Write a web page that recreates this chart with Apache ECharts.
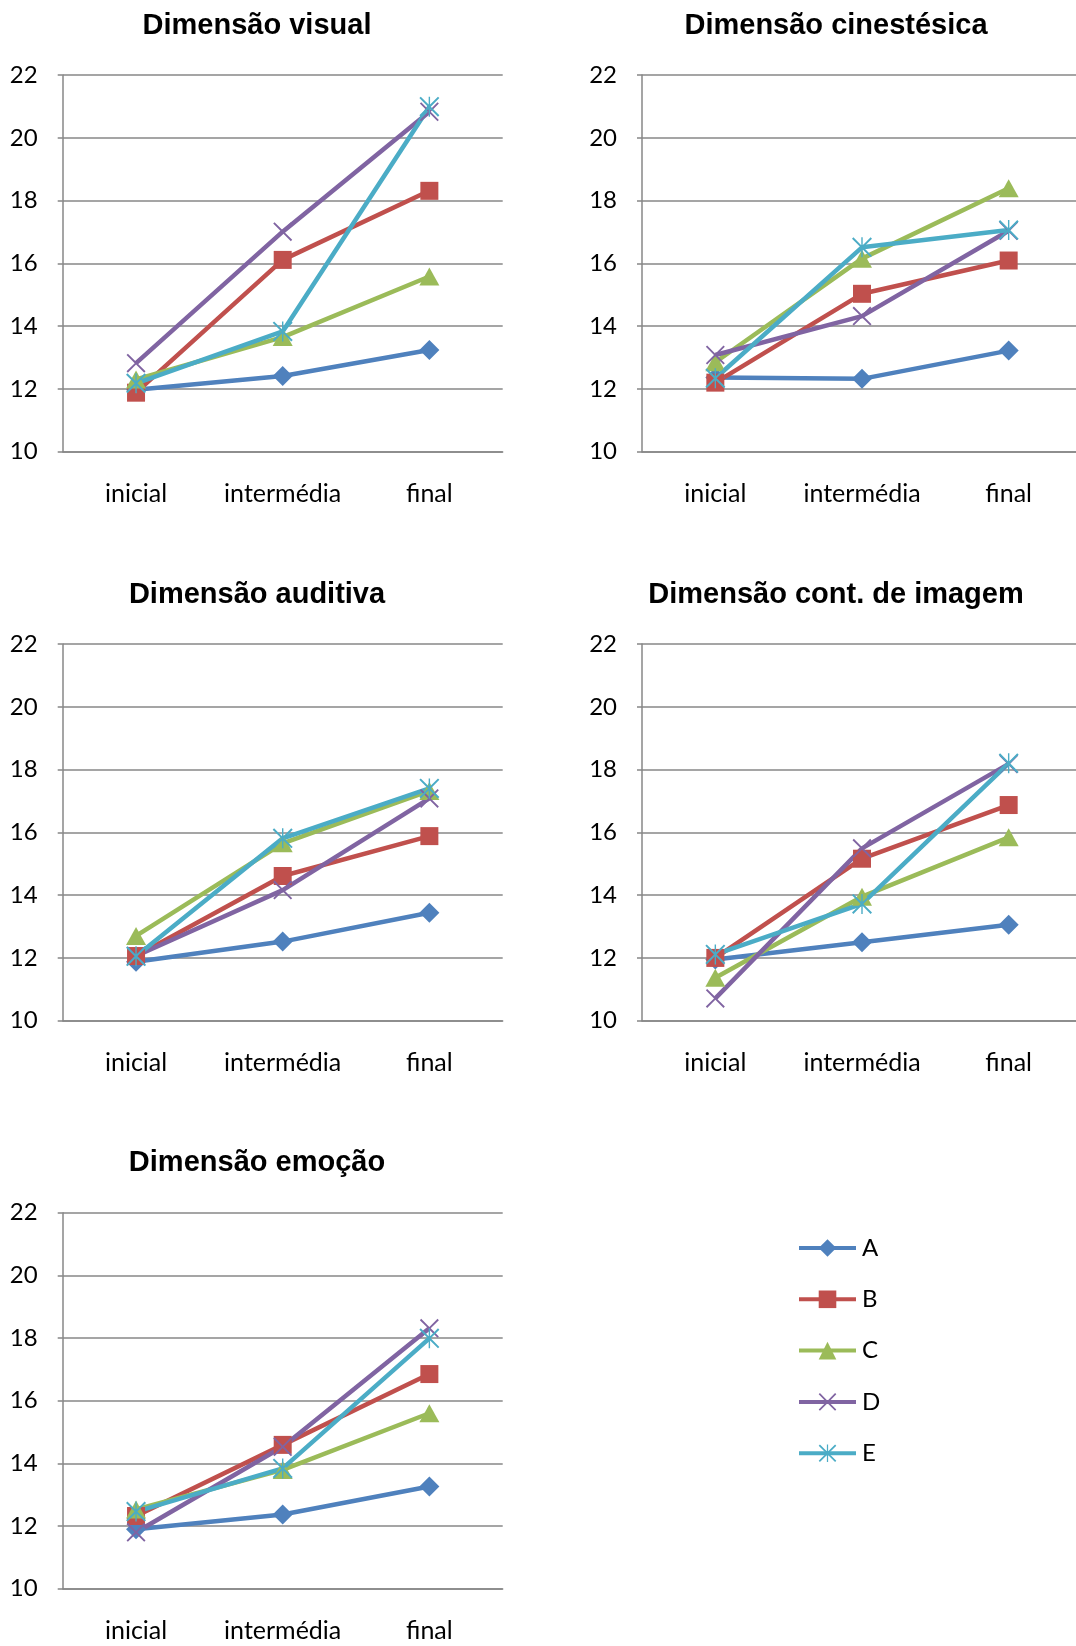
<!DOCTYPE html>
<html><head><meta charset="utf-8">
<script src="https://cdn.jsdelivr.net/npm/echarts@6/dist/echarts.min.js"></script>
<style>html,body{margin:0;padding:0;background:#fff}#c{width:1076px;height:1646px}</style>
</head><body><div id="c"></div>
<script>
// ---- data ----
const categories = ['inicial', 'intermédia', 'final'];
const seriesNames = ['A', 'B', 'C', 'D', 'E'];
const yTickMin = 10, yTickMax = 22, yTickStep = 2;
const chartTitles = ['Dimensão visual', 'Dimensão cinestésica', 'Dimensão auditiva', 'Dimensão cont. de imagem', 'Dimensão emoção'];

// rows: A, B, C, D, E ; columns: inicial, intermédia, final
const visual = [
  [11.97, 12.41, 13.24],
  [11.88, 16.11, 18.31],
  [12.30, 13.65, 15.58],
  [12.82, 17.01, 20.83],
  [12.18, 13.83, 20.99]
];
const cinestesica = [
  [12.36, 12.32, 13.22],
  [12.20, 15.03, 16.09],
  [12.85, 16.15, 18.39],
  [13.08, 14.32, 17.04],
  [12.34, 16.51, 17.06]
];
const auditiva = [
  [11.88, 12.52, 13.44],
  [12.06, 14.61, 15.88],
  [12.70, 15.65, 17.32],
  [12.06, 14.16, 17.08],
  [12.05, 15.81, 17.40]
];
const contImagem = [
  [11.95, 12.50, 13.06],
  [12.00, 15.16, 16.87],
  [11.37, 13.95, 15.84],
  [10.71, 15.49, 18.18],
  [12.11, 13.72, 18.20]
];
const emocao = [
  [11.90, 12.37, 13.26],
  [12.32, 14.59, 16.85],
  [12.53, 13.79, 15.60],
  [11.80, 14.53, 18.31],
  [12.46, 13.84, 17.99]
];
const chartData = [visual, cinestesica, auditiva, contImagem, emocao];

// ---- styling / layout ----
const colors = ['#4F81BD', '#C0504D', '#9BBB59', '#8064A2', '#4BACC6'];
const xPath = 'path://M0,7 L7,0 L50,43 L93,0 L100,7 L57,50 L100,93 L93,100 L50,57 L7,100 L0,93 L43,50 Z';
const starPath = 'path://M0,7 L7,0 L50,43 L93,0 L100,7 L57,50 L100,93 L93,100 L50,57 L7,100 L0,93 L43,50 Z M46.5,0 L53.5,0 L53.5,100 L46.5,100 Z';
const symbols = ['diamond', 'rect', 'triangle', xPath, starPath];
const symbolSizes = [20, 18, [20, 18], 19, 20];

const gridPos = [
  {left: 62.7, top: 75, width: 440, height: 376.7, cx: 257},
  {left: 642, top: 75, width: 440, height: 376.7, cx: 836},
  {left: 62.7, top: 644, width: 440, height: 376.7, cx: 257},
  {left: 642, top: 644, width: 440, height: 376.7, cx: 836},
  {left: 62.7, top: 1212.7, width: 440, height: 376, cx: 257}
];
const gray = '#878787';
const labelFont = 'Lato, "Open Sans", sans-serif';

const grids = [], xAxes = [], yAxes = [], series = [], titles = [];
gridPos.forEach((g, i) => {
  grids.push({left: g.left, top: g.top, width: g.width, height: g.height, containLabel: false, outerBoundsMode: 'none'});
  titles.push({
    text: chartTitles[i], left: g.cx, top: g.top - 49.5, textAlign: 'center', textVerticalAlign: 'middle', padding: 0,
    textStyle: {fontFamily: '"Liberation Sans", Arial, sans-serif', fontWeight: 'bold', fontSize: 29, color: '#000'}
  });
  xAxes.push({
    type: 'category', gridIndex: i, data: categories, boundaryGap: true,
    axisLine: {show: true, lineStyle: {color: gray, width: 1.5}},
    axisTick: {show: false},
    axisLabel: {color: '#000', fontFamily: labelFont, fontSize: 25, margin: 30, interval: 0, hideOverlap: false},
    splitLine: {show: false}
  });
  yAxes.push({
    type: 'value', gridIndex: i, min: yTickMin, max: yTickMax, interval: yTickStep,
    axisLine: {show: true, lineStyle: {color: gray, width: 1.5}},
    axisTick: {show: true, length: 5, lineStyle: {color: gray, width: 1.5}},
    axisLabel: {color: '#000', fontFamily: labelFont, fontSize: 24, margin: 25},
    splitLine: {show: true, lineStyle: {color: gray, width: 1.5}}
  });
  chartData[i].forEach((vals, s) => {
    series.push({
      type: 'line', name: seriesNames[s], xAxisIndex: i, yAxisIndex: i, data: vals,
      symbol: symbols[s], symbolSize: symbolSizes[s], showAllSymbol: true,
      lineStyle: {color: colors[s], width: 4.5},
      itemStyle: {color: colors[s], opacity: 1},
      emphasis: {disabled: true},
      animation: false
    });
  });
});

const chart = echarts.init(document.getElementById('c'), null, {renderer: 'canvas'});
chart.setOption({
  backgroundColor: '#fff',
  animation: false,
  color: colors,
  title: titles,
  grid: grids,
  xAxis: xAxes,
  yAxis: yAxes,
  legend: {
    data: seriesNames, orient: 'vertical', left: 797, top: 1236, padding: 0,
    itemWidth: 57, itemHeight: 22, itemGap: 27.3,
    lineStyle: {width: 4},
    textStyle: {fontFamily: labelFont, fontSize: 24, color: '#000', padding: [0, 0, 0, 1]},
    selectedMode: false
  },
  series: series
});
</script></body></html>
